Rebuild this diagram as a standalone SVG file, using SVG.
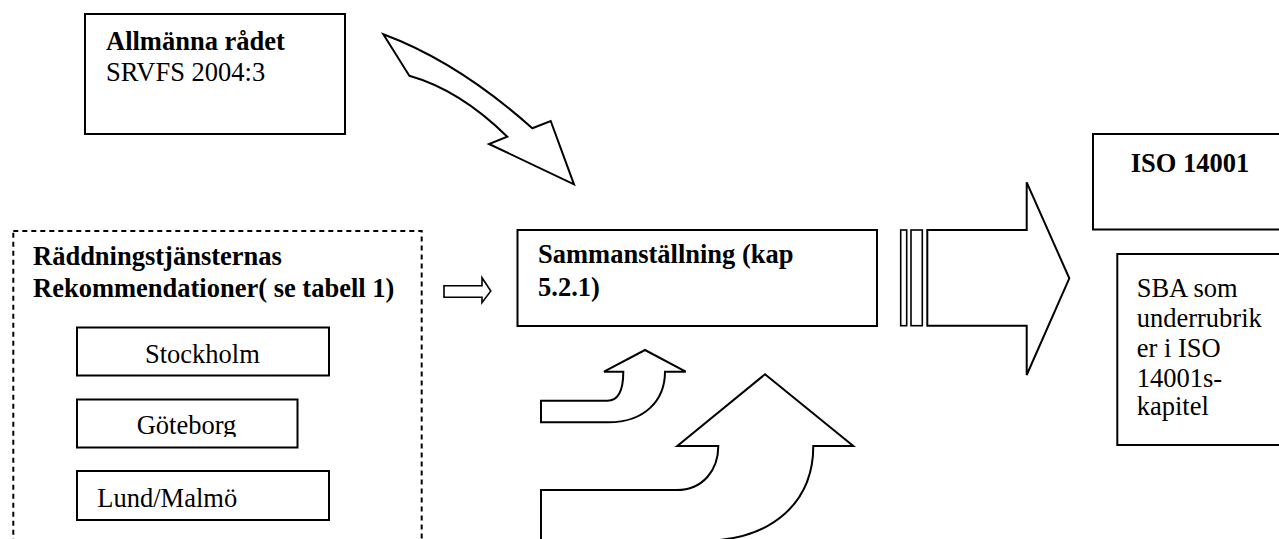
<svg xmlns="http://www.w3.org/2000/svg" width="1279" height="539" viewBox="0 0 1279 539">
<style>
.box{fill:#fff;stroke:#000;stroke-width:2}
.dash{fill:none;stroke:#000;stroke-width:2;stroke-dasharray:5 4}
.arr{fill:#fff;stroke:#000;stroke-width:2;stroke-linejoin:miter}
.thin{fill:#fff;stroke:#000;stroke-width:1.6}
text{font-family:"Liberation Serif","Times New Roman",serif;font-size:26.5px;fill:#000}
.b{font-weight:bold}
</style>
<defs>
<clipPath id="clipGot"><rect x="76" y="399" width="222" height="38"/></clipPath>
</defs>
<rect width="1279" height="539" fill="#fff"/>

<g id="allmanna">
<rect class="box" x="85" y="14" width="260" height="120"/>
<text class="b" x="106" y="50">Allmänna rådet</text>
<text x="106" y="81">SRVFS 2004:3</text>
</g>

<g id="raddning">
<rect class="dash" x="13.3" y="231" width="408.4" height="360"/>
<text class="b" x="33" y="265">Räddningstjänsternas</text>
<text class="b" x="33" y="297">Rekommendationer( se tabell 1)</text>
</g>

<g id="stockholm">
<rect class="box" x="77" y="327.5" width="252" height="48"/>
<text x="145" y="362.7">Stockholm</text>
</g>

<g id="goteborg">
<rect class="box" x="77" y="399.5" width="220.5" height="48"/>
<text x="136.7" y="434" clip-path="url(#clipGot)">Göteborg</text>
</g>

<g id="lund">
<rect class="box" x="77" y="471" width="252" height="49"/>
<text x="97.3" y="506.7">Lund/Malmö</text>
</g>

<g id="sammanstallning">
<rect class="box" x="517.5" y="230" width="359.5" height="96"/>
<text class="b" x="538" y="263">Sammanställning (kap</text>
<text class="b" x="538" y="296">5.2.1)</text>
</g>

<g id="iso">
<rect class="box" x="1093" y="134" width="200" height="95.5"/>
<text class="b" x="1130.7" y="171.7">ISO 14001</text>
</g>

<g id="sba">
<rect class="box" x="1117.3" y="254" width="180" height="191"/>
<text x="1136.7" y="296.7">SBA som</text>
<text x="1136.7" y="326.7">underrubrik</text>
<text x="1136.7" y="356.7">er i ISO</text>
<text x="1136.7" y="386.7">14001s-</text>
<text x="1136.7" y="415">kapitel</text>
</g>

<g id="connectors">
<path class="arr" d="M383.3,34.3 L409.3,75.7 Q460,90 507.3,136.7 L489,144 L574,184.3 L550.7,121 L532.3,128.3 Q458,62 383.3,34.3 Z"/>
<path class="thin" d="M444,285.7 L482,285.7 L482,277.7 L490.8,291 L482,302.7 L482,297.3 L444,297.3 Z"/>
<rect class="thin" x="900.7" y="230" width="6" height="95.7"/>
<rect class="thin" x="911" y="230" width="11.3" height="95.7"/>
<path class="arr" d="M927.3,230 L1026.7,230 L1026.7,182.3 L1069.3,278.3 L1026.7,375 L1026.7,325.7 L927.3,325.7 Z"/>
<path class="arr" d="M541,400.7 L607.3,400.7 C617,400.7 623.3,392 623.3,371.7 L604,371.7 L645,350 L685.7,371.7 L665,371.7 C665,400 645,422.3 608.3,422.3 L541,422.3 Z"/>
<path class="arr" d="M541,541 L541,490 L676.7,490 C703,490 718.3,470 718.3,446 L677.3,446 L765,374.3 L853.3,446 L813.3,446 C813.3,500 775,541 700,541 Z"/>
</g>
</svg>
